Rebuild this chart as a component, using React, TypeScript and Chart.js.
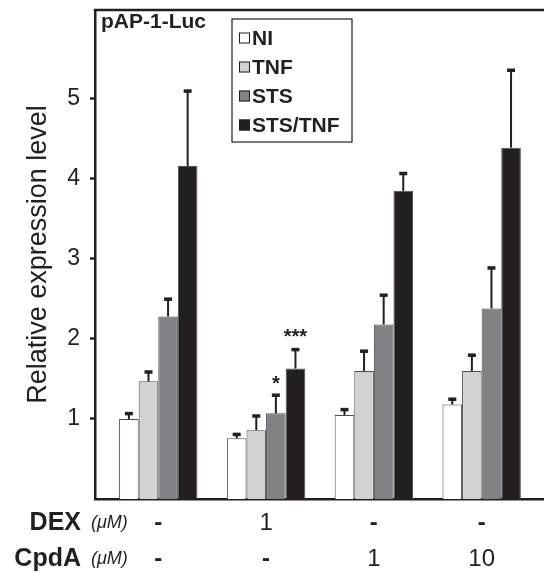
import React, { useEffect, useRef } from 'react';
import { Chart, registerables } from 'chart.js';

Chart.register(...registerables);

// ---- data ----
const conditions = [0, 1, 2, 3];
const dexLabels = ['-', '1', '-', '-'];
const cpdaLabels = ['-', '-', '1', '10'];
const rowHeaders = ['DEX', 'CpdA'];
const rowUnit = '(μM)';
const panelTitle = 'pAP-1-Luc';
const yTitle = 'Relative expression level';

const seriesLabels = ['NI', 'TNF', 'STS', 'STS/TNF'];
const niValues = [1.0, 0.76, 1.05, 1.18];
const tnfValues = [1.47, 0.86, 1.6, 1.6];
const stsValues = [2.28, 1.07, 2.18, 2.38];
const ststnfValues = [4.16, 1.63, 3.85, 4.39];

const niErrors = [0.07, 0.05, 0.07, 0.07];
const tnfErrors = [0.12, 0.18, 0.25, 0.2];
const stsErrors = [0.22, 0.23, 0.37, 0.51];
const ststnfErrors = [0.94, 0.24, 0.22, 0.97];

const niSig = ['', '', '', ''];
const tnfSig = ['', '', '', ''];
const stsSig = ['', '*', '', ''];
const ststnfSig = ['', '***', '', ''];

const yTicks = [1, 2, 3, 4, 5];
const yMax = 6.11;
const xMin = -0.587;
const xMax = 3.569;

const seriesColors = ['#ffffff', '#d1d2d4', '#808285', '#231f20'];
const ink = '#231f20';
const FONT = '"Liberation Sans", Arial, Helvetica, sans-serif';

const allValues = [niValues, tnfValues, stsValues, ststnfValues];
const allErrors = [niErrors, tnfErrors, stsErrors, ststnfErrors];
const allSig = [niSig, tnfSig, stsSig, ststnfSig];

const decorPlugin = {
  id: 'decor',
  afterDatasetsDraw(chart: any) {
    const ctx = chart.ctx;
    const ys = chart.scales.y;
    ctx.save();
    chart.data.datasets.forEach((_ds: any, i: number) => {
      const meta = chart.getDatasetMeta(i);
      meta.data.forEach((bar: any, j: number) => {
        const v = allValues[i][j];
        const e = allErrors[i][j];
        const yTop = ys.getPixelForValue(v + e);
        const yBar = ys.getPixelForValue(v);
        ctx.strokeStyle = ink;
        ctx.lineWidth = 2;
        ctx.beginPath();
        ctx.moveTo(bar.x, yBar);
        ctx.lineTo(bar.x, yTop);
        ctx.stroke();
        ctx.fillStyle = ink;
        ctx.fillRect(bar.x - 4, yTop - 1.5, 8, 3.5);
        const s = allSig[i][j];
        if (s) {
          ctx.font = `bold 20px ${FONT}`;
          ctx.textAlign = 'center';
          ctx.textBaseline = 'alphabetic';
          ctx.fillText(s, bar.x, yTop - (s.length > 1 ? 6.5 : 4.5));
        }
      });
    });
    ctx.restore();
  },
  afterDraw(chart: any) {
    const ctx = chart.ctx;
    const area = chart.chartArea;
    const xs = chart.scales.x;
    ctx.save();
    // top frame line
    ctx.strokeStyle = ink;
    ctx.lineWidth = 2.5;
    ctx.beginPath();
    ctx.moveTo(area.left - 1.25, area.top);
    ctx.lineTo(chart.width, area.top);
    ctx.stroke();

    // panel title
    ctx.fillStyle = ink;
    ctx.font = `bold 21px ${FONT}`;
    ctx.textAlign = 'left';
    ctx.textBaseline = 'alphabetic';
    ctx.fillText(panelTitle, area.left + 6, area.top + 18);

    // legend
    const lx = area.left + 137;
    const ly = area.top + 9;
    ctx.fillStyle = '#ffffff';
    ctx.fillRect(lx, ly, 120, 123);
    ctx.strokeStyle = ink;
    ctx.lineWidth = 1.2;
    ctx.strokeRect(lx, ly, 120, 123);
    seriesLabels.forEach((lab, k) => {
      const cy = ly + 19 + k * 29;
      ctx.fillStyle = seriesColors[k];
      ctx.fillRect(lx + 7, cy - 5.5, 11, 11);
      ctx.strokeStyle = ink;
      ctx.lineWidth = 1;
      ctx.strokeRect(lx + 7.5, cy - 5, 10, 10);
      ctx.fillStyle = ink;
      ctx.font = `bold 21px ${FONT}`;
      ctx.textAlign = 'left';
      ctx.textBaseline = 'middle';
      ctx.fillText(lab, lx + 20, cy + 1);
    });

    // bottom condition rows
    const rows = [dexLabels, cpdaLabels];
    const baselines = [area.bottom + 31, area.bottom + 67];
    rows.forEach((row, r) => {
      const by = baselines[r];
      ctx.fillStyle = ink;
      ctx.textBaseline = 'alphabetic';
      ctx.font = `bold 25px ${FONT}`;
      ctx.textAlign = 'right';
      ctx.fillText(rowHeaders[r], area.left - 14, by);
      ctx.font = `italic 18px ${FONT}`;
      ctx.textAlign = 'left';
      ctx.fillText(rowUnit, area.left - 4, by - 2);
      row.forEach((t, i) => {
        const px = xs.getPixelForValue(conditions[i]);
        ctx.textAlign = 'center';
        ctx.font = t === '-' ? `bold 24px ${FONT}` : `24px ${FONT}`;
        ctx.fillText(t, px, by);
      });
    });
    ctx.restore();
  },
};

export default function App() {
  const canvasRef = useRef<HTMLCanvasElement | null>(null);

  useEffect(() => {
    if (!canvasRef.current) return;
    Chart.defaults.font.family = FONT;
    const chart = new Chart(canvasRef.current, {
      type: 'bar',
      data: {
        datasets: seriesLabels.map((label, i) => ({
          label,
          data: conditions.map((c, j) => ({ x: c, y: allValues[i][j] })),
          backgroundColor: seriesColors[i],
          borderColor: '#4d4d4f',
          borderWidth: 1,
          categoryPercentage: 0.727,
          barPercentage: 1,
        })),
      },
      options: {
        animation: false,
        responsive: false,
        devicePixelRatio: 1,
        layout: { padding: { top: 10, right: 1, left: 0, bottom: 0 } },
        plugins: {
          legend: { display: false },
          tooltip: { enabled: false },
        },
        scales: {
          x: {
            type: 'linear',
            min: xMin,
            max: xMax,
            offset: false,
            afterBuildTicks: (s: any) => {
              s.ticks = conditions.map((v) => ({ value: v }));
            },
            afterFit: (s: any) => {
              s.height = 74;
              s.paddingLeft = 0;
              s.paddingRight = 0;
              s.paddingTop = 0;
              s.paddingBottom = 0;
            },
            ticks: { display: false },
            grid: { display: false },
            border: { display: true, color: ink, width: 2.5 },
          },
          y: {
            min: 0,
            max: yMax,
            afterFit: (s: any) => {
              s.width = 95;
              s.paddingTop = 0;
              s.paddingBottom = 0;
              s.paddingLeft = 0;
              s.paddingRight = 0;
            },
            afterBuildTicks: (s: any) => {
              s.ticks = yTicks.map((v) => ({ value: v }));
            },
            ticks: {
              font: { family: FONT, size: 23 },
              color: ink,
              padding: 10,
            },
            grid: {
              drawOnChartArea: false,
              drawTicks: true,
              tickLength: 5,
              tickWidth: 2.5,
              tickColor: ink,
            },
            border: { display: true, color: ink, width: 2.5 },
            title: {
              display: true,
              text: yTitle,
              font: { family: FONT, size: 27 },
              color: ink,
              padding: { top: 22, bottom: 0 },
            },
          },
        },
      },
      plugins: [decorPlugin],
    } as any);
    return () => chart.destroy();
  }, []);

  return (
    <div style={{ position: 'absolute', left: 0, top: 0, width: 544, height: 573, background: '#fff' }}>
      <canvas ref={canvasRef} width={544} height={573} style={{ display: 'block' }} />
    </div>
  );
}
